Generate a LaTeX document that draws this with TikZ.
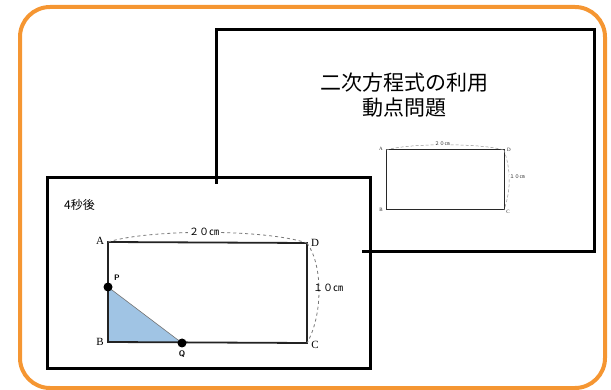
\documentclass[tikz,border=0pt]{standalone}
\usepackage{fontspec}
\setmainfont{Liberation Serif}
\newfontfamily\jp{Noto Sans CJK JP}
\definecolor{frameorange}{RGB}{245,150,50}
\definecolor{shadeblue}{RGB}{160,196,228}
\definecolor{dashgray}{RGB}{120,120,120}
\tikzset{
  slideline/.style={line width=3pt, line join=miter},
  figline/.style={line width=1.8pt, draw={rgb,255:red,35;green,35;blue,35}},
  smallline/.style={line width=1pt, draw={rgb,255:red,40;green,40;blue,40}},
  dim/.style={dashed, dashgray, line width=0.8pt},
  smalldim/.style={densely dashed, dashgray!80, line width=0.5pt},
  biglabel/.style={font=\fontsize{11}{12}\selectfont, inner sep=1pt},
  smalllabel/.style={font=\fontsize{5}{6}\selectfont, inner sep=0.5pt, text=black!85},
  dot/.style={circle, fill=black, inner sep=0pt, minimum size=9pt}
}
\begin{document}
\begin{tikzpicture}[x=1pt,y=-1pt]
\useasboundingbox (0,0) rectangle (611,390);
% outer orange frame
\draw[frameorange, line width=4pt, rounded corners=30pt] (20,7) rectangle (605,388);

% front slide
\coordinate (fTL) at (47,178);
\coordinate (fBR) at (370,368);
\draw[slideline, fill=white] (fTL) rectangle (fBR);

% back slide (visible part)
\coordinate (bA) at (216,184);
\coordinate (bB) at (216,30);
\coordinate (bC) at (594,30);
\coordinate (bD) at (594,252);
\coordinate (bE) at (362,252);
\draw[slideline] (bA) -- (bB) -- (bC) -- (bD) -- (bE);

% title
\node[font=\jp\fontsize{21}{25}\selectfont, align=center] (title) at (404,95) {二次方程式の利用\\動点問題};

% small rectangle on back slide
\coordinate (sA) at (386,150);
\coordinate (sD) at (504,150);
\coordinate (sC) at (504,210);
\coordinate (sB) at (386,210);
\draw[smallline] (sA) -- (sD) -- (sC) -- (sB) -- cycle;
\draw[smalldim] (sA) .. controls (410,143) and (480,143) .. (sD);
\draw[smalldim] (sD) .. controls (511,170) and (511,190) .. (sC);
\node[smalllabel] (sAl) at (381,149) {A};
\node[smalllabel] (sDl) at (509,150) {D};
\node[smalllabel] (sBl) at (381,210) {B};
\node[smalllabel] (sCl) at (508,212) {C};
\node[smalllabel, fill=white] (s20) at (442,144) {\jp ２０㎝};
\node[smalllabel, fill=white] (s10) at (517,177) {\jp １０㎝};

% front slide content
\node[font=\jp\fontsize{12}{14}\selectfont, anchor=west, inner sep=0pt] (time) at (64,205) {4秒後};

\coordinate (A) at (108,242);
\coordinate (D) at (307,243);
\coordinate (C) at (307,343);
\coordinate (B) at (108,342);
\coordinate (P) at (108,287);
\coordinate (Q) at (182,343);

\fill[shadeblue] (P) -- (B) -- (Q) -- cycle;
\draw[line width=0.6pt, draw=black!55] (P) -- (Q);
\draw[figline] (A) -- (D) -- (C) -- (B) -- cycle;

\draw[dim] (A) .. controls (150,229) and (265,229) .. (D);
\draw[dim] (D) .. controls (323,265) and (323,315) .. (C);

\node[dot] (Pd) at (P) {};
\node[dot] (Qd) at (Q) {};

\node[biglabel] (Al) at (100,241) {A};
\node[biglabel] (Dl) at (315,243) {D};
\node[biglabel] (Bl) at (100,342) {B};
\node[biglabel] (Cl) at (315,345) {C};
\node[font=\sffamily\bfseries\fontsize{8}{9}\selectfont, inner sep=0pt] (Pl) at (117,278) {P};
\node[font=\sffamily\bfseries\fontsize{8}{9}\selectfont, inner sep=0pt] (Ql) at (182,354) {Q};
\node[font=\jp\fontsize{10}{11}\selectfont, fill=white, inner sep=1pt] (l20) at (204,232) {２０㎝};
\node[font=\jp\fontsize{10}{11}\selectfont, inner sep=0pt] (l10) at (328,288) {１０㎝};
\end{tikzpicture}
\end{document}
